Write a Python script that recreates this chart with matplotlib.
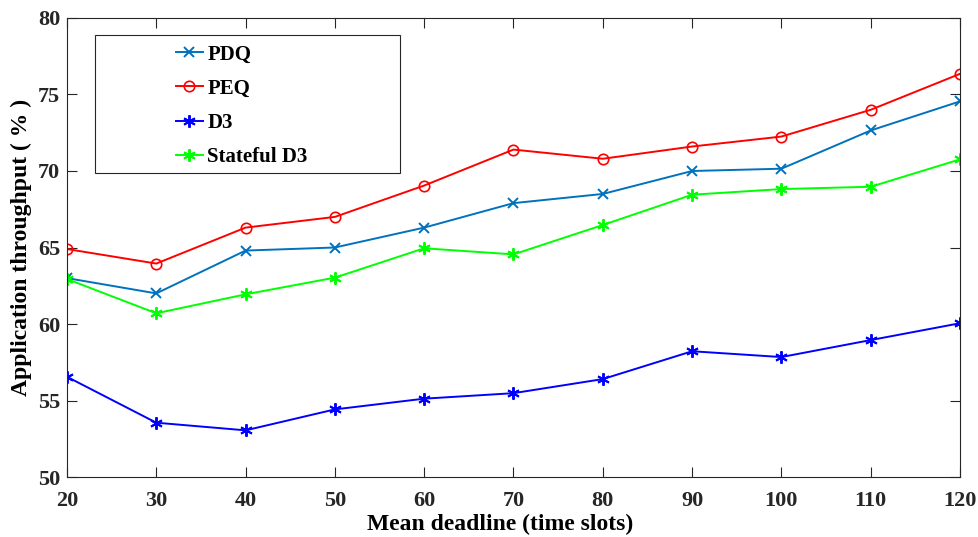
import matplotlib
matplotlib.use("Agg")
import matplotlib.pyplot as plt
from matplotlib.patches import Rectangle

deadlines = [20, 30, 40, 50, 60, 70, 80, 90, 100, 110, 120]
pdq = [63.0, 62.0, 64.8, 65.0, 66.3, 67.9, 68.5, 70.0, 70.15, 72.65, 74.55]
peq = [64.9, 63.95, 66.3, 67.0, 69.05, 71.4, 70.8, 71.6, 72.25, 74.0, 76.35]
d3 = [56.55, 53.55, 53.05, 54.42, 55.12, 55.48, 56.4, 58.22, 57.84, 58.95, 60.05]
stateful_d3 = [62.94, 60.7, 61.94, 63.03, 64.95, 64.55, 66.47, 68.45, 68.82, 68.97, 70.76]

xticks = [20, 30, 40, 50, 60, 70, 80, 90, 100, 110, 120]
yticks = [50, 55, 60, 65, 70, 75, 80]

plt.rcParams['font.family'] = ['Liberation Serif', 'DejaVu Serif']
plt.rcParams['font.weight'] = 'bold'

fig = plt.figure(figsize=(9.79, 5.37), dpi=100)
ax = fig.add_axes([0.0684, 0.1117, 0.9122, 0.8548])

lw = 1.4
ax.plot(deadlines, pdq, color='#0072BD', marker='x', markersize=7, mew=1.4, lw=lw, label='PDQ')
ax.plot(deadlines, peq, color='#FF0000', marker='o', markersize=7.5, mfc='none', mew=1.2, lw=lw, label='PEQ')
ax.plot(deadlines, d3, color='#0000FF', marker=(6, 2, 0), markersize=9, mew=1.4, lw=lw, label='D3')
ax.plot(deadlines, stateful_d3, color='#00FF00', marker=(6, 2, 0), markersize=9, mew=1.4, lw=lw, label='Stateful D3')

ax.set_xlim(20, 120)
ax.set_ylim(50, 80)
ax.set_xticks(xticks)
ax.set_yticks(yticks)
ax.tick_params(direction='in', length=7, width=0.8, top=True, right=True,
               labelsize=16, colors='#262626', labelcolor='#262626')
ax.tick_params(axis='x', pad=10)
ax.tick_params(axis='y', pad=5)
for lab in ax.get_xticklabels() + ax.get_yticklabels():
    lab.set_fontweight('bold')
for s in ax.spines.values():
    s.set_color('#262626')
    s.set_linewidth(0.8)

ax.set_xlabel('Mean deadline (time slots)', fontsize=17, fontweight='bold', labelpad=2)
ax.xaxis.label.set_x(0.485)
ax.set_ylabel('Application throughput ( % )', fontsize=17, fontweight='bold', labelpad=4)

# legend box
ax.add_patch(Rectangle((0.031, 0.662), 0.342, 0.301, transform=ax.transAxes,
                       facecolor='white', edgecolor='#262626', lw=0.8, zorder=5))
leg = ax.legend(loc='upper left', bbox_to_anchor=(0.122, 0.942), frameon=False,
                handlelength=1.3, handletextpad=0.2, labelspacing=0.68,
                borderaxespad=0, borderpad=0,
                prop={'family': 'Liberation Serif', 'weight': 'bold', 'size': 15})
leg.set_zorder(6)

fig.savefig('out.png', dpi=100)
